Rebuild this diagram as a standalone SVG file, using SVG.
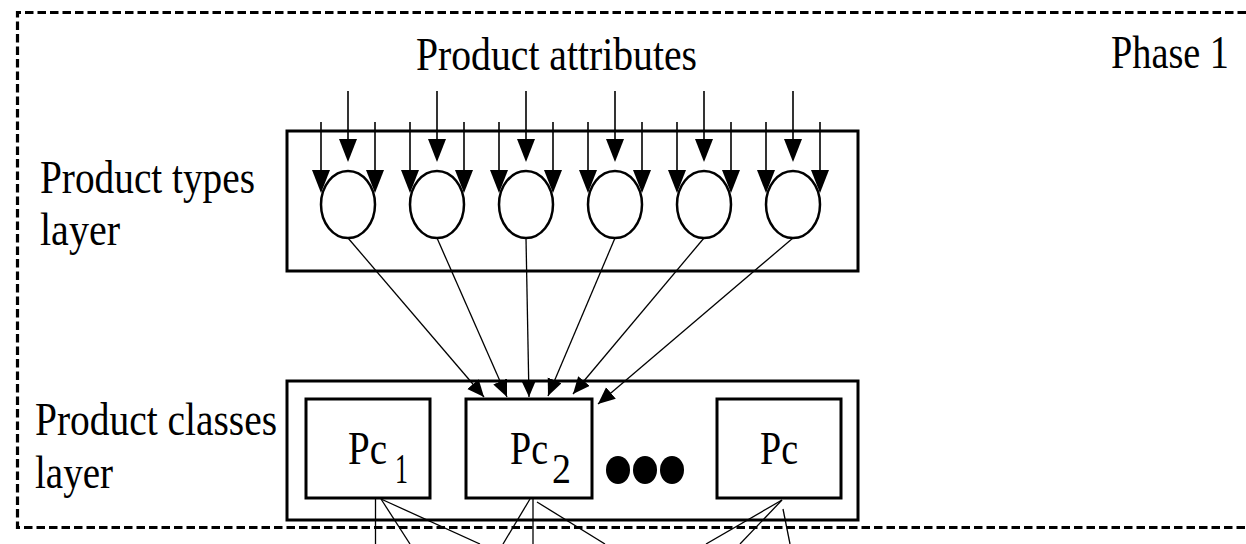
<svg xmlns="http://www.w3.org/2000/svg" width="1246" height="544" viewBox="0 0 1246 544">
<style>
  text { font-family: "Liberation Serif", "Times New Roman", serif; fill: #000; }
  .box { fill: #fff; stroke: #000; stroke-width: 3; }
  .node { fill: #fff; stroke: #000; stroke-width: 2.5; }
  .in { stroke: #000; stroke-width: 1.6; fill: none; }
  .head { fill: #000; stroke: none; }
  .edge { stroke: #000; stroke-width: 1.3; fill: none; }
  .dash { stroke: #000; stroke-width: 3.2; fill: none; stroke-dasharray: 8.5 4; }
</style>
<defs>
  <marker id="ah" markerUnits="userSpaceOnUse" markerWidth="18" markerHeight="16" refX="17" refY="7.5" orient="auto">
    <path d="M0,0 L17,7.5 L0,15 Z" fill="#000"/>
  </marker>
</defs>
<rect width="1246" height="544" fill="#fff"/>

<g id="phase-border">
  <path class="dash" d="M1246,12.5 H17.5 V527.5 H1246"/>
</g>

<g id="labels">
  <text x="416" y="70" font-size="46" textLength="281" lengthAdjust="spacingAndGlyphs">Product attributes</text>
  <text x="1111" y="68" font-size="46" textLength="118" lengthAdjust="spacingAndGlyphs">Phase 1</text>
  <text x="40" y="193" font-size="46" textLength="215" lengthAdjust="spacingAndGlyphs">Product types</text>
  <text x="40" y="245" font-size="46" textLength="80" lengthAdjust="spacingAndGlyphs">layer</text>
  <text x="35" y="435" font-size="46" textLength="242" lengthAdjust="spacingAndGlyphs">Product classes</text>
  <text x="35" y="488" font-size="46" textLength="78" lengthAdjust="spacingAndGlyphs">layer</text>
</g>

<g id="product-types-layer">
  <rect class="box" x="287" y="131" width="571" height="140"/>
</g>

<g id="inputs">
  <g id="in-1">
    <line class="in" x1="348" y1="91" x2="348" y2="140"/><polygon class="head" points="339,139 357,139 348,162"/>
    <line class="in" x1="321" y1="122" x2="321" y2="171"/><polygon class="head" points="312,170 330,170 321,193"/>
    <line class="in" x1="375" y1="122" x2="375" y2="171"/><polygon class="head" points="366,170 384,170 375,193"/>
  </g>
  <g id="in-2">
    <line class="in" x1="437" y1="91" x2="437" y2="140"/><polygon class="head" points="428,139 446,139 437,162"/>
    <line class="in" x1="410" y1="122" x2="410" y2="171"/><polygon class="head" points="401,170 419,170 410,193"/>
    <line class="in" x1="464" y1="122" x2="464" y2="171"/><polygon class="head" points="455,170 473,170 464,193"/>
  </g>
  <g id="in-3">
    <line class="in" x1="526" y1="91" x2="526" y2="140"/><polygon class="head" points="517,139 535,139 526,162"/>
    <line class="in" x1="499" y1="122" x2="499" y2="171"/><polygon class="head" points="490,170 508,170 499,193"/>
    <line class="in" x1="553" y1="122" x2="553" y2="171"/><polygon class="head" points="544,170 562,170 553,193"/>
  </g>
  <g id="in-4">
    <line class="in" x1="615" y1="91" x2="615" y2="140"/><polygon class="head" points="606,139 624,139 615,162"/>
    <line class="in" x1="588" y1="122" x2="588" y2="171"/><polygon class="head" points="579,170 597,170 588,193"/>
    <line class="in" x1="642" y1="122" x2="642" y2="171"/><polygon class="head" points="633,170 651,170 642,193"/>
  </g>
  <g id="in-5">
    <line class="in" x1="704" y1="91" x2="704" y2="140"/><polygon class="head" points="695,139 713,139 704,162"/>
    <line class="in" x1="677" y1="122" x2="677" y2="171"/><polygon class="head" points="668,170 686,170 677,193"/>
    <line class="in" x1="731" y1="122" x2="731" y2="171"/><polygon class="head" points="722,170 740,170 731,193"/>
  </g>
  <g id="in-6">
    <line class="in" x1="793" y1="91" x2="793" y2="140"/><polygon class="head" points="784,139 802,139 793,162"/>
    <line class="in" x1="766" y1="122" x2="766" y2="171"/><polygon class="head" points="757,170 775,170 766,193"/>
    <line class="in" x1="820" y1="122" x2="820" y2="171"/><polygon class="head" points="811,170 829,170 820,193"/>
  </g>
</g>

<g id="pt-1"><ellipse class="node" cx="348" cy="204.5" rx="27" ry="33.5"/></g>
<g id="pt-2"><ellipse class="node" cx="437" cy="204.5" rx="27" ry="33.5"/></g>
<g id="pt-3"><ellipse class="node" cx="526" cy="204.5" rx="27" ry="33.5"/></g>
<g id="pt-4"><ellipse class="node" cx="615" cy="204.5" rx="27" ry="33.5"/></g>
<g id="pt-5"><ellipse class="node" cx="704" cy="204.5" rx="27" ry="33.5"/></g>
<g id="pt-6"><ellipse class="node" cx="793" cy="204.5" rx="27" ry="33.5"/></g>

<g id="product-classes-layer">
  <rect class="box" x="287" y="381" width="571" height="139"/>
</g>

<g id="pc1">
  <rect class="box" x="306" y="399" width="124" height="99"/>
  <text x="348" y="464" font-size="47" textLength="39" lengthAdjust="spacingAndGlyphs">Pc</text>
  <text x="395" y="483" font-size="43" textLength="13" lengthAdjust="spacingAndGlyphs">1</text>
</g>
<g id="pc2">
  <rect class="box" x="466" y="399" width="126" height="99"/>
  <text x="510" y="464" font-size="47" textLength="38" lengthAdjust="spacingAndGlyphs">Pc</text>
  <text x="552" y="483" font-size="43" textLength="19" lengthAdjust="spacingAndGlyphs">2</text>
</g>
<g id="dots">
  <ellipse cx="618" cy="470" rx="12" ry="14" fill="#000"/>
  <ellipse cx="645" cy="470" rx="12" ry="14" fill="#000"/>
  <ellipse cx="672" cy="470" rx="12" ry="14" fill="#000"/>
</g>
<g id="pcn">
  <rect class="box" x="717" y="399" width="124" height="99"/>
  <text x="760" y="464" font-size="47" textLength="38" lengthAdjust="spacingAndGlyphs">Pc</text>
</g>

<g id="connectors">
  <line class="edge" x1="348" y1="238" x2="484" y2="397" marker-end="url(#ah)"/>
  <line class="edge" x1="437" y1="238" x2="507" y2="397" marker-end="url(#ah)"/>
  <line class="edge" x1="526" y1="238" x2="529" y2="397" marker-end="url(#ah)"/>
  <line class="edge" x1="615" y1="238" x2="548" y2="396" marker-end="url(#ah)"/>
  <line class="edge" x1="704" y1="238" x2="573" y2="394" marker-end="url(#ah)"/>
  <line class="edge" x1="793" y1="238" x2="598" y2="404" marker-end="url(#ah)"/>
  <line class="edge" x1="375.5" y1="499" x2="375.5" y2="544"/>
  <line class="edge" x1="381" y1="499" x2="410" y2="544"/>
  <line class="edge" x1="381" y1="499" x2="480" y2="544"/>
  <line class="edge" x1="530" y1="499" x2="503" y2="544"/>
  <line class="edge" x1="533" y1="499" x2="533" y2="544"/>
  <line class="edge" x1="537" y1="502" x2="605" y2="544"/>
  <line class="edge" x1="782" y1="500" x2="706" y2="544"/>
  <line class="edge" x1="782" y1="500" x2="740" y2="544"/>
  <line class="edge" x1="783" y1="509" x2="790" y2="544"/>
</g>
</svg>
